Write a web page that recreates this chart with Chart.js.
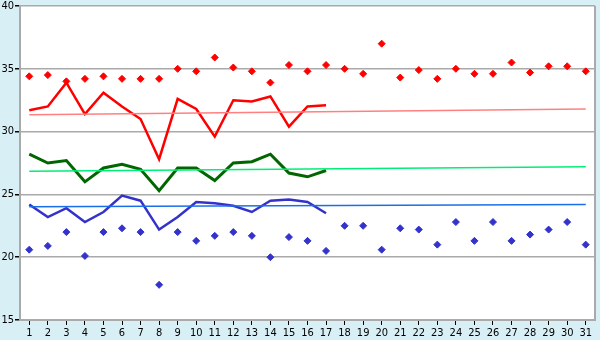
<!DOCTYPE html>
<html>
<head>
<title>Temperatures</title>
<script src="https://cdn.jsdelivr.net/npm/chart.js"></script>
<style>
  html, body { margin: 0; padding: 0; background: #d9eff6; }
  #wrap { width: 600px; height: 340px; }
</style>
</head>
<body>
<div id="wrap"><canvas id="myChart" width="600" height="340"></canvas></div>
<script>
// days of the month
var days = [];
for (var d = 1; d <= 31; d++) days.push(String(d));

// daily maximum / minimum (points)
var maxPoints = [34.4, 34.5, 34.0, 34.2, 34.4, 34.2, 34.2, 34.2, 35.0, 34.8,
                 35.9, 35.1, 34.8, 33.9, 35.3, 34.8, 35.3, 35.0, 34.6, 37.0,
                 34.3, 34.9, 34.2, 35.0, 34.6, 34.6, 35.5, 34.7, 35.2, 35.2, 34.8];
var minPoints = [20.6, 20.9, 22.0, 20.1, 22.0, 22.3, 22.0, 17.8, 22.0, 21.3,
                 21.7, 22.0, 21.7, 20.0, 21.6, 21.3, 20.5, 22.5, 22.5, 20.6,
                 22.3, 22.2, 21.0, 22.8, 21.3, 22.8, 21.3, 21.8, 22.2, 22.8, 21.0];

// measured lines (first 17 days)
var highLine = [31.7, 32.0, 33.9, 31.4, 33.1, 32.0, 31.0, 27.8, 32.6, 31.8,
                29.6, 32.5, 32.4, 32.8, 30.4, 32.0, 32.1];
var meanLine = [28.2, 27.5, 27.7, 26.0, 27.1, 27.4, 27.0, 25.3, 27.1, 27.1,
                26.1, 27.5, 27.6, 28.2, 26.7, 26.4, 26.9];
var lowLine  = [24.2, 23.2, 23.9, 22.8, 23.6, 24.9, 24.5, 22.2, 23.2, 24.4,
                24.3, 24.1, 23.6, 24.5, 24.6, 24.4, 23.5];

// trend lines: start (day 1) and end (day 31)
var highTrend = [31.35, 31.8];
var meanTrend = [26.85, 27.2];
var lowTrend  = [24.02, 24.2];

function trend(ends) {
  var arr = [];
  for (var i = 0; i < days.length; i++) arr.push(null);
  arr[0] = ends[0];
  arr[days.length - 1] = ends[1];
  return arr;
}

var frame = {
  id: 'frame',
  beforeDraw: function(chart) {
    var c = chart.ctx, a = chart.chartArea;
    c.save();
    c.fillStyle = '#d9eff6';
    c.fillRect(0, 0, chart.width, chart.height);
    c.fillStyle = '#ffffff';
    c.fillRect(a.left, a.top, a.right - a.left, a.bottom - a.top);
    c.restore();
  },
  afterDraw: function(chart) {
    var c = chart.ctx, a = chart.chartArea;
    c.save();
    c.strokeStyle = '#aaaaaa';
    c.lineWidth = 2;
    c.beginPath();
    c.moveTo(a.right, a.top);
    c.lineTo(a.right, a.bottom);
    c.stroke();
    c.restore();
  }
};

var lineDs = function(data, color, width) {
  return { data: data, borderColor: color, borderWidth: width, pointRadius: 0,
           fill: false, tension: 0 };
};
var trendDs = function(data, color) {
  return { data: data, borderColor: color, borderWidth: 1.5, pointRadius: 0,
           fill: false, spanGaps: true };
};
var pointDs = function(data, color) {
  return { data: data, showLine: false, pointStyle: 'rectRot', pointRadius: 3.5,
           backgroundColor: color, borderColor: color, borderWidth: 1 };
};

var tickFont = { family: "'DejaVu Sans Condensed', sans-serif", size: 11, lineHeight: 0.8 };

var ctx = document.getElementById('myChart').getContext('2d');
var chart = new Chart(ctx, {
  type: 'line',
  data: {
    labels: days,
    datasets: [
      trendDs(trend(highTrend), '#ff8080'),
      trendDs(trend(meanTrend), '#00ee77'),
      trendDs(trend(lowTrend), '#1a6fe8'),
      lineDs(highLine, '#ff0000', 2.5),
      lineDs(meanLine, '#006600', 3),
      lineDs(lowLine, '#3333cc', 2.5),
      pointDs(maxPoints, '#ff0000'),
      pointDs(minPoints, '#3333cc')
    ]
  },
  options: {
    responsive: false,
    animation: false,
    layout: { padding: { top: 6, right: 4, left: 0, bottom: 0 } },
    plugins: { legend: { display: false }, tooltip: { enabled: false } },
    scales: {
      x: {
        offset: true,
        grid: { offset: false, drawOnChartArea: false, tickColor: '#000000', tickLength: 5 },
        border: { color: '#aaaaaa', width: 2 },
        ticks: { color: '#000000', font: tickFont, padding: 4, maxRotation: 0, autoSkip: false },
        afterFit: function(s) { s.height = 20; }
      },
      y: {
        min: 15, max: 40,
        grid: { color: '#aaaaaa', lineWidth: 1.5, tickColor: '#000000', tickLength: 5 },
        border: { color: '#aaaaaa', width: 2 },
        ticks: { stepSize: 5, color: '#000000', font: tickFont, padding: 1 },
        afterFit: function(s) { s.width = 20; }
      }
    }
  },
  plugins: [frame]
});
</script>
</body>
</html>
